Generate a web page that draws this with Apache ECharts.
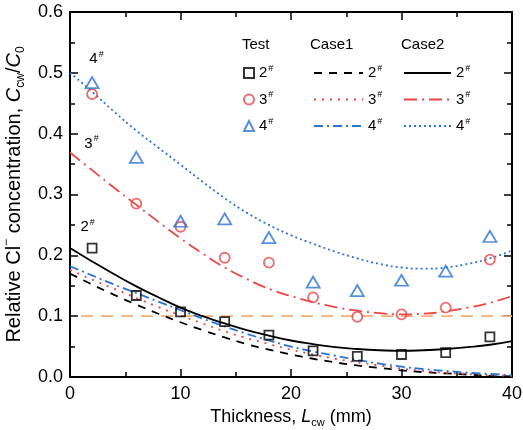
<!DOCTYPE html>
<html>
<head>
<meta charset="utf-8">
<script src="https://cdn.jsdelivr.net/npm/echarts@6/dist/echarts.min.js"></script>
<style>
html,body{margin:0;padding:0;background:#fff;}
#chart{width:523px;height:430px;}
</style>
</head>
<body>
<div id="chart"></div>
<script>
// ---- data ----
const xTest = [2, 6, 10, 14, 18, 22, 26, 30, 34, 38];
const test2 = [0.212, 0.134, 0.107, 0.091, 0.069, 0.043, 0.034, 0.037, 0.040, 0.066];
const test3 = [0.465, 0.285, 0.247, 0.196, 0.188, 0.131, 0.099, 0.103, 0.114, 0.193];
const test4 = [0.484, 0.361, 0.256, 0.260, 0.229, 0.156, 0.142, 0.159, 0.174, 0.231];

const xCase = [0, 2, 4, 6, 8, 10, 12, 14, 16, 18, 20, 22, 24, 26, 28, 30, 32, 34, 36, 38, 40];
const case1_2 = [0.170, 0.152, 0.135, 0.119, 0.104, 0.090, 0.077, 0.065, 0.054, 0.045, 0.037, 0.030, 0.024, 0.019, 0.015, 0.011, 0.008, 0.006, 0.004, 0.002, 0.001];
const case1_3 = [0.176, 0.160, 0.145, 0.130, 0.115, 0.101, 0.088, 0.075, 0.064, 0.054, 0.045, 0.037, 0.030, 0.024, 0.019, 0.014, 0.010, 0.007, 0.005, 0.003, 0.002];
const case1_4 = [0.182, 0.167, 0.152, 0.138, 0.124, 0.110, 0.096, 0.083, 0.071, 0.060, 0.050, 0.042, 0.035, 0.028, 0.022, 0.017, 0.013, 0.010, 0.007, 0.005, 0.003];
const case2_2 = [0.212, 0.190, 0.169, 0.149, 0.131, 0.114, 0.100, 0.088, 0.077, 0.068, 0.060, 0.054, 0.049, 0.046, 0.044, 0.043, 0.044, 0.046, 0.049, 0.053, 0.059];
const case2_3 = [0.369, 0.340, 0.311, 0.283, 0.255, 0.228, 0.203, 0.180, 0.161, 0.145, 0.133, 0.123, 0.115, 0.109, 0.105, 0.103, 0.104, 0.108, 0.114, 0.122, 0.133];
const case2_4 = [0.500, 0.469, 0.436, 0.405, 0.377, 0.349, 0.321, 0.294, 0.270, 0.250, 0.233, 0.219, 0.206, 0.195, 0.186, 0.180, 0.178, 0.180, 0.186, 0.195, 0.208];

const refX = [1, 40];
const refY = [0.1, 0.1];

const labelNames = ['4', '3', '2'];
const labelPos = [[2.4, 0.523], [1.95, 0.384], [1.6, 0.246]];

// ---- style ----
const FONT = 'Liberation Sans, Arial, sans-serif';
const BLACK = '#000000';
const RED = '#EA4646';
const BLUE = '#2B74D6';
const ORANGE = '#F4AE78';

function pairs(xs, ys) { return xs.map((x, i) => [x, ys[i]]); }

function lineSeries(name, ys, color, type) {
  return {
    name: name, type: 'line', data: pairs(xCase, ys), smooth: true,
    symbol: 'none', showSymbol: false, z: 2, silent: true,
    lineStyle: { color: color, width: 1.8, type: type },
    itemStyle: { color: color }
  };
}
function scatterSeries(name, ys, color, symbol, size) {
  return {
    name: name, type: 'scatter', data: pairs(xTest, ys), symbol: symbol,
    symbolSize: size, z: 5, silent: true,
    itemStyle: { color: 'rgba(255,255,255,0)', borderColor: color, borderWidth: 1.8 }
  };
}

const axisCommon = {
  axisLine: { show: true, onZero: false, lineStyle: { color: BLACK, width: 2 } },
  axisTick: { show: true, inside: true, length: 8, lineStyle: { color: BLACK, width: 1.5 } },
  minorTick: { show: true, splitNumber: 2, length: 5, lineStyle: { color: BLACK, width: 1.5 } },
  splitLine: { show: false }
};

const legendRich = {
  n: { fontSize: 15, lineHeight: 18, fontFamily: FONT, color: BLACK },
  s: { fontSize: 9, lineHeight: 18, fontFamily: FONT, color: BLACK, verticalAlign: 'top', padding: [0, 0, 6, 1] }
};
function legendFmt(name) { return '{n|' + name.split(' ')[1] + '}{s|#}'; }

const chart = echarts.init(document.getElementById('chart'), null, { renderer: 'canvas' });
const option = {
  animation: false,
  backgroundColor: '#fff',
  grid: { left: 70, right: 11, top: 12, bottom: 53, containLabel: false, outerBoundsMode: 'none' },
  xAxis: [
    Object.assign({}, axisCommon, {
      type: 'value', min: 0, max: 40, interval: 10, position: 'bottom',
      axisLabel: { color: BLACK, fontSize: 18, fontFamily: FONT, margin: 8 },
      name: 'Thickness, {i|L}{sub|cw} (mm)', nameLocation: 'middle', nameGap: 29,
      nameTextStyle: {
        color: BLACK, fontSize: 18, fontFamily: FONT,
        rich: {
          i: { fontSize: 18, fontStyle: 'italic', fontFamily: FONT, lineHeight: 22 },
          sub: { fontSize: 11, fontFamily: FONT, lineHeight: 12, verticalAlign: 'bottom' }
        }
      }
    }),
    Object.assign({}, axisCommon, {
      type: 'value', min: 0, max: 40, interval: 10, position: 'top',
      axisLabel: { show: false }
    })
  ],
  yAxis: [
    Object.assign({}, axisCommon, {
      type: 'value', min: 0, max: 0.6, interval: 0.1, position: 'left',
      axisLabel: { color: BLACK, fontSize: 18, fontFamily: FONT, margin: 7, formatter: v => v.toFixed(1) },
      name: '{n|Relative Cl}{sup|−}{n| concentration, }{i|C}{sub|cw}{n|/}{i|C}{sub|0}',
      nameLocation: 'middle', nameRotate: 90, nameGap: 34,
      nameTextStyle: {
        color: BLACK, fontSize: 20, fontFamily: FONT,
        rich: {
          n: { fontSize: 20, fontFamily: FONT, lineHeight: 26 },
          i: { fontSize: 20, fontStyle: 'italic', fontFamily: FONT, lineHeight: 26 },
          sub: { fontSize: 12, fontFamily: FONT, lineHeight: 12, verticalAlign: 'bottom' },
          sup: { fontSize: 12, fontFamily: FONT, lineHeight: 12, verticalAlign: 'top' }
        }
      }
    }),
    Object.assign({}, axisCommon, {
      type: 'value', min: 0, max: 0.6, interval: 0.1, position: 'right',
      axisLabel: { show: false }
    })
  ],
  legend: [
    {
      data: ['Test 2', 'Test 3', 'Test 4'], orient: 'vertical', left: 243, top: 64,
      padding: 0, itemGap: 10, itemWidth: 10, itemHeight: 10, selectedMode: false,
      formatter: legendFmt, textStyle: { rich: legendRich }
    },
    {
      data: ['Case1 2', 'Case1 3', 'Case1 4'], orient: 'vertical', left: 313, top: 64,
      padding: 0, itemGap: 10, itemWidth: 49, itemHeight: 14, selectedMode: false,
      itemStyle: { opacity: 0 },
      formatter: legendFmt, textStyle: { rich: legendRich }
    },
    {
      data: ['Case2 2', 'Case2 3', 'Case2 4'], orient: 'vertical', left: 403, top: 64,
      padding: 0, itemGap: 10, itemWidth: 47, itemHeight: 14, selectedMode: false,
      itemStyle: { opacity: 0 },
      formatter: legendFmt, textStyle: { rich: legendRich }
    }
  ],
  series: [
    {
      name: 'ref', type: 'line', data: pairs(refX, refY), symbol: 'none', silent: true, z: 1,
      lineStyle: { color: ORANGE, width: 1.8, type: [12, 8] }
    },
    lineSeries('Case1 2', case1_2, BLACK, [8, 7]),
    lineSeries('Case1 3', case1_3, RED, [2, 6]),
    lineSeries('Case1 4', case1_4, BLUE, [9, 4, 2, 4]),
    lineSeries('Case2 2', case2_2, BLACK, 'solid'),
    lineSeries('Case2 3', case2_3, RED, [13, 5, 2, 5]),
    lineSeries('Case2 4', case2_4, BLUE, [2, 3]),
    scatterSeries('Test 2', test2, BLACK, 'rect', 9),
    scatterSeries('Test 3', test3, RED, 'circle', 10),
    scatterSeries('Test 4', test4, BLUE, 'triangle', [13, 11])
  ]
};
chart.setOption(option);

const headers = [['Test', 242], ['Case1', 310], ['Case2', 401]];
const graphics = headers.map(h => ({
  type: 'text', x: h[1], y: 45,
  style: { text: h[0], fontSize: 15, fontFamily: FONT, fill: BLACK, verticalAlign: 'middle', align: 'left' }
}));
labelNames.forEach((t, i) => {
  const p = chart.convertToPixel({ gridIndex: 0 }, labelPos[i]);
  graphics.push({
    type: 'text', x: p[0], y: p[1],
    style: {
      text: '{n|' + t + '}{s|#}', fill: BLACK, verticalAlign: 'middle', align: 'center',
      rich: {
        n: { fontSize: 15, lineHeight: 18, fontFamily: FONT, fill: BLACK },
        s: { fontSize: 9, lineHeight: 18, fontFamily: FONT, fill: BLACK, verticalAlign: 'top', padding: [0, 0, 6, 1] }
      }
    }
  });
});
chart.setOption({ graphic: graphics });
</script>
</body>
</html>
